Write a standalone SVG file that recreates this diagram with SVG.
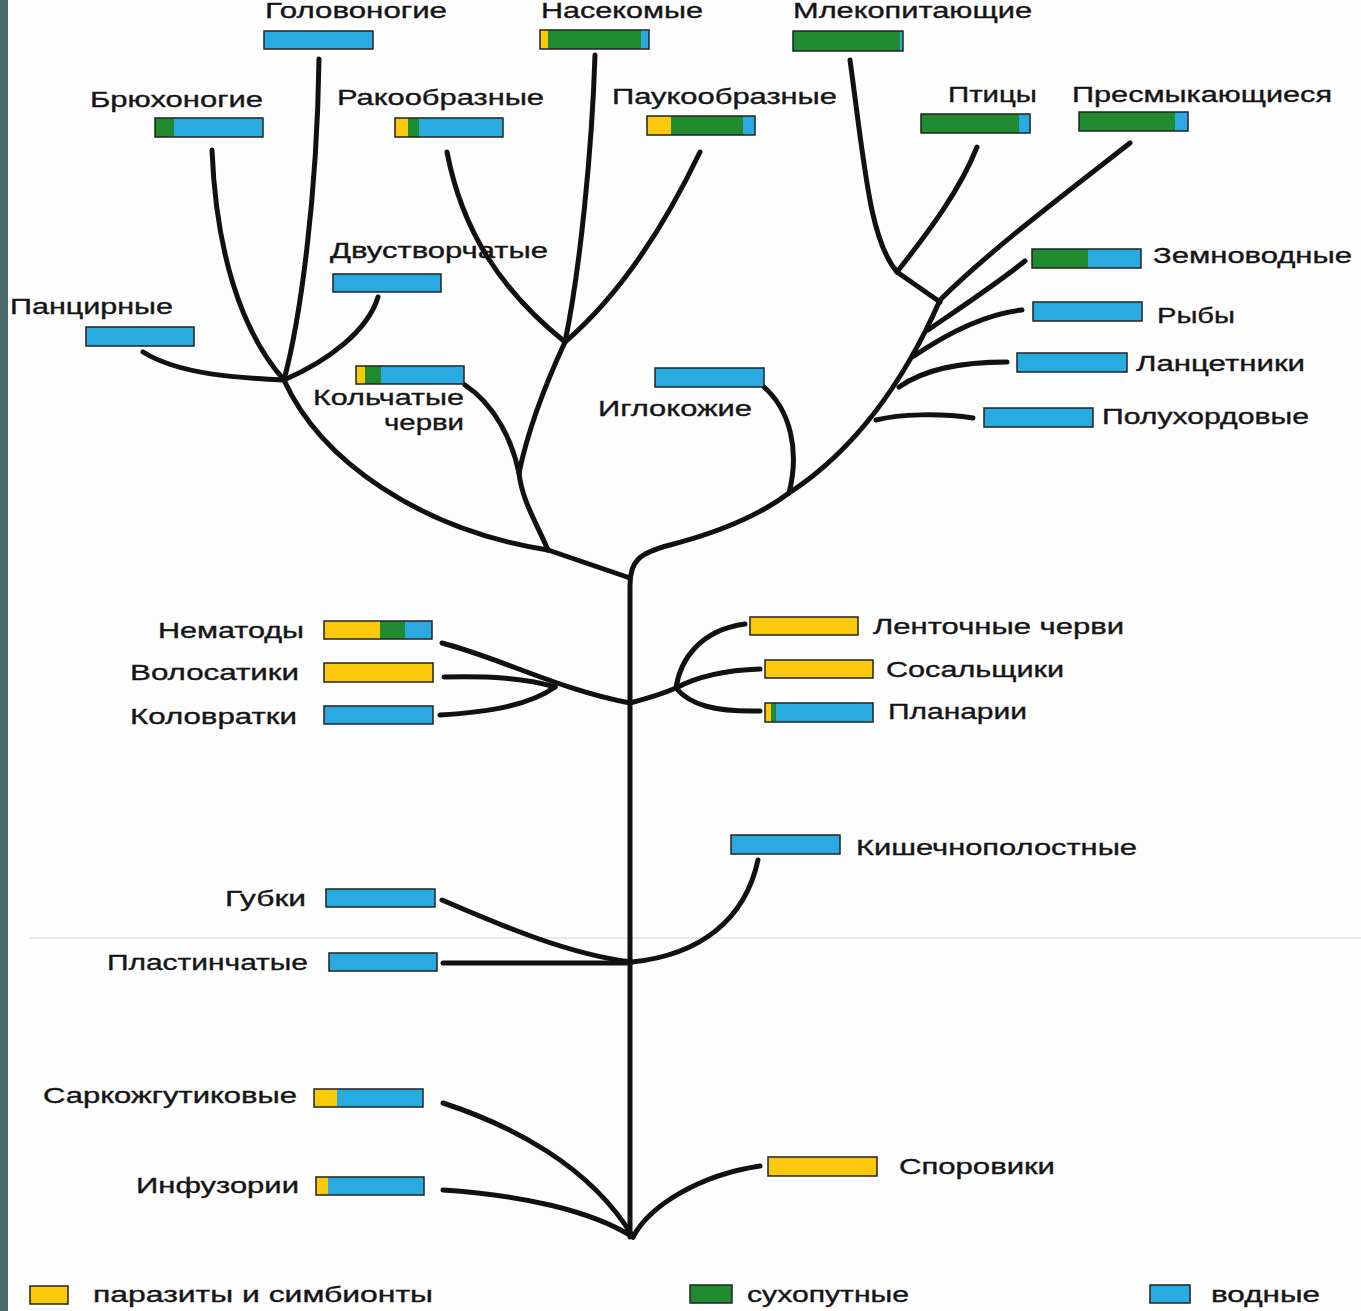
<svg xmlns="http://www.w3.org/2000/svg" width="1361" height="1311" viewBox="0 0 1361 1311">
<style>
.t{font-family:"Liberation Sans",Arial,sans-serif;font-size:22px;fill:#151515;stroke:#151515;stroke-width:0.35}
.o{fill:none;stroke:#222;stroke-width:1.5}
.b{fill:#29abe2}.g{fill:#1f8a2e}.y{fill:#fbc80c}
.e{fill:none;stroke:#111;stroke-width:5;stroke-linecap:round;stroke-linejoin:round}
</style>
<rect x="0" y="0" width="1361" height="1311" fill="#fdfdfd"/>
<rect x="0" y="0" width="8" height="1311" fill="#4b6a6a"/>
<line x1="30" y1="938" x2="1361" y2="938" stroke="#e2e2e2" stroke-width="1.5"/>

<g id="connectors">
<path class="e" d="M630,1237 L630,585 C630,560 640,553 670,545 C720,532 760,515 789,493"/>
<path class="e" d="M630,578 L548,550"/>
<path class="e" d="M548,550 C420,530 320,460 284,380"/>
<path class="e" d="M319,59 C317,200 300,320 284,380"/>
<path class="e" d="M212,150 C216,250 240,330 284,380"/>
<path class="e" d="M378,297 C368,330 330,360 284,380"/>
<path class="e" d="M143,352 C180,375 240,378 284,380"/>
<path class="e" d="M548,550 C535,520 522,500 519,473"/>
<path class="e" d="M519,473 C512,440 495,405 465,385"/>
<path class="e" d="M519,473 C530,420 552,370 565,342"/>
<path class="e" d="M595,55 C592,150 580,270 565,342"/>
<path class="e" d="M447,152 C462,230 500,290 565,342"/>
<path class="e" d="M700,152 C665,225 620,295 565,342"/>
<path class="e" d="M764,387 C790,410 800,450 789,493"/>
<path class="e" d="M789,493 C855,450 905,380 940,300"/>
<path class="e" d="M876,420 C900,414 940,413 973,418"/>
<path class="e" d="M899,387 C925,369 960,362 1007,362"/>
<path class="e" d="M914,356 C945,335 985,314 1022,310"/>
<path class="e" d="M928,330 C960,308 995,285 1025,261"/>
<path class="e" d="M940,300 C990,250 1070,190 1130,143"/>
<path class="e" d="M940,302 L897,272"/>
<path class="e" d="M897,272 C930,230 960,190 977,147"/>
<path class="e" d="M850,60 C865,170 870,240 897,272"/>
<path class="e" d="M442,643 C500,658 560,690 630,703"/>
<path class="e" d="M444,677 C490,676 525,678 555,687"/>
<path class="e" d="M440,715 C490,712 530,705 555,687"/>
<path class="e" d="M630,703 Q660,695 676,688 C680,660 700,630 745,624"/>
<path class="e" d="M676,688 C700,675 730,670 760,669"/>
<path class="e" d="M676,688 C690,705 715,712 760,711"/>
<path class="e" d="M758,860 C745,920 700,955 632,962"/>
<path class="e" d="M442,900 C500,925 570,955 632,962"/>
<path class="e" d="M443,963 L630,963"/>
<path class="e" d="M443,1103 C510,1125 590,1165 633,1237"/>
<path class="e" d="M443,1190 C520,1195 590,1210 633,1237"/>
<path class="e" d="M760,1166 C700,1175 650,1205 633,1237"/>
</g>

<g id="n-golovonogie"><rect class="b" x="264" y="31" width="109" height="18"/><rect class="o" x="264" y="31" width="109" height="18"/><text class="t" x="265" y="18" textLength="182" lengthAdjust="spacingAndGlyphs">Головоногие</text></g>
<g id="n-nasekomye"><rect class="y" x="540" y="30" width="8" height="19"/><rect class="g" x="548" y="30" width="93" height="19"/><rect class="b" x="641" y="30" width="8" height="19"/><rect class="o" x="540" y="30" width="109" height="19"/><text class="t" x="541" y="18" textLength="162" lengthAdjust="spacingAndGlyphs">Насекомые</text></g>
<g id="n-mlekopitayushchie"><rect class="g" x="793" y="31" width="107" height="20"/><rect class="b" x="900" y="31" width="3" height="20"/><rect class="o" x="793" y="31" width="110" height="20"/><text class="t" x="793" y="18" textLength="239" lengthAdjust="spacingAndGlyphs">Млекопитающие</text></g>
<g id="n-bryukhonogie"><rect class="g" x="155" y="118" width="19" height="19"/><rect class="b" x="174" y="118" width="89" height="19"/><rect class="o" x="155" y="118" width="108" height="19"/><text class="t" x="90" y="107" textLength="173" lengthAdjust="spacingAndGlyphs">Брюхоногие</text></g>
<g id="n-rakoobraznye"><rect class="y" x="395" y="118" width="13" height="19"/><rect class="g" x="408" y="118" width="11" height="19"/><rect class="b" x="419" y="118" width="84" height="19"/><rect class="o" x="395" y="118" width="108" height="19"/><text class="t" x="337" y="105" textLength="207" lengthAdjust="spacingAndGlyphs">Ракообразные</text></g>
<g id="n-paukoobraznye"><rect class="y" x="647" y="116" width="24" height="19"/><rect class="g" x="671" y="116" width="72" height="19"/><rect class="b" x="743" y="116" width="12" height="19"/><rect class="o" x="647" y="116" width="108" height="19"/><text class="t" x="612" y="104" textLength="225" lengthAdjust="spacingAndGlyphs">Паукообразные</text></g>
<g id="n-ptitsy"><rect class="g" x="921" y="114" width="98" height="19"/><rect class="b" x="1019" y="114" width="11" height="19"/><rect class="o" x="921" y="114" width="109" height="19"/><text class="t" x="948" y="102" textLength="89" lengthAdjust="spacingAndGlyphs">Птицы</text></g>
<g id="n-presmykayushchiesya"><rect class="g" x="1079" y="112" width="96" height="19"/><rect class="b" x="1175" y="112" width="13" height="19"/><rect class="o" x="1079" y="112" width="109" height="19"/><text class="t" x="1072" y="102" textLength="260" lengthAdjust="spacingAndGlyphs">Пресмыкающиеся</text></g>
<g id="n-dvustvorchatye"><rect class="b" x="333" y="274" width="108" height="18"/><rect class="o" x="333" y="274" width="108" height="18"/><text class="t" x="330" y="258" textLength="218" lengthAdjust="spacingAndGlyphs">Двустворчатые</text></g>
<g id="n-pantsirnye"><rect class="b" x="86" y="327" width="108" height="19"/><rect class="o" x="86" y="327" width="108" height="19"/><text class="t" x="10" y="314" textLength="163" lengthAdjust="spacingAndGlyphs">Панцирные</text></g>
<g id="n-kolchatye"><rect class="y" x="356" y="366" width="9" height="18"/><rect class="g" x="365" y="366" width="16" height="18"/><rect class="b" x="381" y="366" width="83" height="18"/><rect class="o" x="356" y="366" width="108" height="18"/><text class="t" x="313" y="405" textLength="151" lengthAdjust="spacingAndGlyphs">Кольчатые</text><text class="t" x="384" y="430" textLength="80" lengthAdjust="spacingAndGlyphs">черви</text></g>
<g id="n-iglokozhie"><rect class="b" x="655" y="368" width="109" height="19"/><rect class="o" x="655" y="368" width="109" height="19"/><text class="t" x="598" y="416" textLength="154" lengthAdjust="spacingAndGlyphs">Иглокожие</text></g>
<g id="n-zemnovodnye"><rect class="g" x="1032" y="249" width="56" height="19"/><rect class="b" x="1088" y="249" width="53" height="19"/><rect class="o" x="1032" y="249" width="109" height="19"/><text class="t" x="1153" y="263" textLength="199" lengthAdjust="spacingAndGlyphs">Земноводные</text></g>
<g id="n-ryby"><rect class="b" x="1033" y="302" width="109" height="19"/><rect class="o" x="1033" y="302" width="109" height="19"/><text class="t" x="1157" y="323" textLength="78" lengthAdjust="spacingAndGlyphs">Рыбы</text></g>
<g id="n-lantsetniki"><rect class="b" x="1017" y="353" width="110" height="19"/><rect class="o" x="1017" y="353" width="110" height="19"/><text class="t" x="1136" y="371" textLength="169" lengthAdjust="spacingAndGlyphs">Ланцетники</text></g>
<g id="n-polukhordovye"><rect class="b" x="984" y="408" width="109" height="19"/><rect class="o" x="984" y="408" width="109" height="19"/><text class="t" x="1102" y="424" textLength="207" lengthAdjust="spacingAndGlyphs">Полухордовые</text></g>
<g id="n-nematody"><rect class="y" x="324" y="621" width="56" height="18"/><rect class="g" x="380" y="621" width="25" height="18"/><rect class="b" x="405" y="621" width="27" height="18"/><rect class="o" x="324" y="621" width="108" height="18"/><text class="t" x="158" y="638" textLength="146" lengthAdjust="spacingAndGlyphs">Нематоды</text></g>
<g id="n-volosatiki"><rect class="y" x="324" y="663" width="109" height="19"/><rect class="o" x="324" y="663" width="109" height="19"/><text class="t" x="130" y="680" textLength="169" lengthAdjust="spacingAndGlyphs">Волосатики</text></g>
<g id="n-kolovratki"><rect class="b" x="324" y="706" width="109" height="18"/><rect class="o" x="324" y="706" width="109" height="18"/><text class="t" x="130" y="724" textLength="167" lengthAdjust="spacingAndGlyphs">Коловратки</text></g>
<g id="n-lentochnye"><rect class="y" x="750" y="617" width="108" height="18"/><rect class="o" x="750" y="617" width="108" height="18"/><text class="t" x="873" y="634" textLength="251" lengthAdjust="spacingAndGlyphs">Ленточные черви</text></g>
<g id="n-sosalshchiki"><rect class="y" x="765" y="660" width="108" height="18"/><rect class="o" x="765" y="660" width="108" height="18"/><text class="t" x="886" y="677" textLength="178" lengthAdjust="spacingAndGlyphs">Сосальщики</text></g>
<g id="n-planarii"><rect class="y" x="765" y="703" width="6" height="19"/><rect class="g" x="771" y="703" width="5" height="19"/><rect class="b" x="776" y="703" width="97" height="19"/><rect class="o" x="765" y="703" width="108" height="19"/><text class="t" x="888" y="719" textLength="139" lengthAdjust="spacingAndGlyphs">Планарии</text></g>
<g id="n-kishechnopolostnye"><rect class="b" x="731" y="835" width="109" height="19"/><rect class="o" x="731" y="835" width="109" height="19"/><text class="t" x="856" y="855" textLength="281" lengthAdjust="spacingAndGlyphs">Кишечнополостные</text></g>
<g id="n-gubki"><rect class="b" x="326" y="889" width="109" height="18"/><rect class="o" x="326" y="889" width="109" height="18"/><text class="t" x="225" y="906" textLength="81" lengthAdjust="spacingAndGlyphs">Губки</text></g>
<g id="n-plastinchatye"><rect class="b" x="329" y="953" width="108" height="18"/><rect class="o" x="329" y="953" width="108" height="18"/><text class="t" x="107" y="970" textLength="201" lengthAdjust="spacingAndGlyphs">Пластинчатые</text></g>
<g id="n-sarkozhgutikovye"><rect class="y" x="314" y="1089" width="23" height="18"/><rect class="b" x="337" y="1089" width="86" height="18"/><rect class="o" x="314" y="1089" width="109" height="18"/><text class="t" x="43" y="1103" textLength="254" lengthAdjust="spacingAndGlyphs">Саркожгутиковые</text></g>
<g id="n-infuzorii"><rect class="y" x="316" y="1177" width="12" height="18"/><rect class="b" x="328" y="1177" width="96" height="18"/><rect class="o" x="316" y="1177" width="108" height="18"/><text class="t" x="136" y="1193" textLength="163" lengthAdjust="spacingAndGlyphs">Инфузории</text></g>
<g id="n-sporoviki"><rect class="y" x="768" y="1157" width="109" height="19"/><rect class="o" x="768" y="1157" width="109" height="19"/><text class="t" x="899" y="1174" textLength="156" lengthAdjust="spacingAndGlyphs">Споровики</text></g>

<g id="legend">
<rect class="y" x="30" y="1286" width="38" height="18"/><rect class="o" x="30" y="1286" width="38" height="18"/>
<text class="t" x="93" y="1302" textLength="340" lengthAdjust="spacingAndGlyphs">паразиты и симбионты</text>
<rect class="g" x="690" y="1285" width="42" height="18"/><rect class="o" x="690" y="1285" width="42" height="18"/>
<text class="t" x="747" y="1302" textLength="162" lengthAdjust="spacingAndGlyphs">сухопутные</text>
<rect class="b" x="1150" y="1285" width="40" height="18"/><rect class="o" x="1150" y="1285" width="40" height="18"/>
<text class="t" x="1211" y="1302" textLength="109" lengthAdjust="spacingAndGlyphs">водные</text>
</g>
</svg>
